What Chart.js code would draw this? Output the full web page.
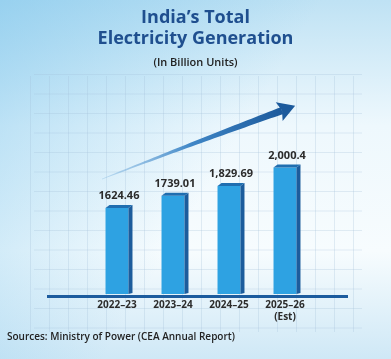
<!DOCTYPE html>
<html>
<head>
<meta charset="utf-8">
<script src="https://cdn.jsdelivr.net/npm/chart.js@4.4.1/dist/chart.umd.min.js"></script>
<style>
  html, body { margin: 0; padding: 0; background: #ffffff; }
  #wrap { width: 391px; height: 359px; position: relative; }
</style>
</head>
<body>
<div id="wrap"><canvas id="genChart" width="391" height="359"></canvas></div>
<script>
const years = ['2022–23', '2023–24', '2024–25', ['2025–26', '(Est)']];
const generation = [1624.46, 1739.01, 1829.69, 2000.4];
const valueLabels = ['1624.46', '1739.01', '1,829.69', '2,000.4'];
const sourceNote = 'Sources: Ministry of Power (CEA Annual Report)';

// background wash + faint graph-paper grid
const backdrop = {
  id: 'backdrop',
  beforeDraw(chart) {
    const { ctx, width, height } = chart;
    ctx.save();
    let g = ctx.createLinearGradient(0, 0, 0, height);
    g.addColorStop(0, '#bfe2f4');
    g.addColorStop(0.35, '#eef8fd');
    g.addColorStop(0.7, '#f7fcfe');
    g.addColorStop(1, '#cfe8f6');
    ctx.fillStyle = g;
    ctx.fillRect(0, 0, width, height);
    g = ctx.createLinearGradient(0, 0, width * 0.6, height * 0.4);
    g.addColorStop(0, 'rgba(120,195,235,0.55)');
    g.addColorStop(1, 'rgba(120,195,235,0)');
    ctx.fillStyle = g;
    ctx.fillRect(0, 0, width, height);

    ctx.strokeStyle = 'rgba(160,190,215,0.28)';
    ctx.lineWidth = 1;
    for (let x = 49.5 - 19; x < 362; x += 19) {
      ctx.beginPath(); ctx.moveTo(x, 76); ctx.lineTo(x, 332); ctx.stroke();
    }
    for (let y = 93.5 - 19; y < 334; y += 19.5) {
      ctx.beginPath(); ctx.moveTo(34, y); ctx.lineTo(362, y); ctx.stroke();
    }
    ctx.restore();
  }
};

// side/top faces, value labels, baseline, growth arrow, source line
const extras = {
  id: 'extras',
  afterDatasetsDraw(chart) {
    const { ctx, chartArea } = chart;
    const bars = chart.getDatasetMeta(0).data;
    ctx.save();
    bars.forEach((b, i) => {
      const r = b.x + b.width / 2, l = b.x - b.width / 2;
      const bottom = Math.min(b.base, chartArea.bottom);
      const d = 4, u = 3;
      ctx.fillStyle = '#1c5c9c';
      ctx.beginPath();
      ctx.moveTo(r, b.y); ctx.lineTo(r + d, b.y - u);
      ctx.lineTo(r + d, bottom - 1); ctx.lineTo(r, bottom);
      ctx.closePath(); ctx.fill();
      ctx.fillStyle = '#1f6eb0';
      ctx.beginPath();
      ctx.moveTo(l, b.y); ctx.lineTo(l + d, b.y - u);
      ctx.lineTo(r + d, b.y - u); ctx.lineTo(r, b.y);
      ctx.closePath(); ctx.fill();

      ctx.fillStyle = '#2b2b2b';
      ctx.font = '700 11px "Open Sans"';
      ctx.textAlign = 'center';
      ctx.textBaseline = 'alphabetic';
      ctx.fillText(valueLabels[i], b.x + 2, b.y - 9);
    });

    // baseline
    ctx.fillStyle = '#1d5c9e';
    ctx.fillRect(47, chartArea.bottom + 1, 301, 3);

    // growth arrow
    const b0 = bars[0], b3 = bars[bars.length - 1];
    const S = { x: b0.x - 15, y: b0.y - 29 };
    const E = { x: b3.x - 3, y: b3.y - 57 };
    const C = { x: (S.x + E.x) / 2 + 7, y: S.y - 38 };
    const pt = t => ({
      x: (1 - t) * (1 - t) * S.x + 2 * (1 - t) * t * C.x + t * t * E.x,
      y: (1 - t) * (1 - t) * S.y + 2 * (1 - t) * t * C.y + t * t * E.y
    });
    const tan = t => {
      const dx = 2 * (1 - t) * (C.x - S.x) + 2 * t * (E.x - C.x);
      const dy = 2 * (1 - t) * (C.y - S.y) + 2 * t * (E.y - C.y);
      const n = Math.hypot(dx, dy);
      return { x: dx / n, y: dy / n };
    };
    const upper = [], lower = [];
    for (let k = 0; k <= 40; k++) {
      const t = k / 40, p = pt(t), v = tan(t), w = 0.4 + 3.2 * t;
      upper.push({ x: p.x + v.y * w, y: p.y - v.x * w });
      lower.push({ x: p.x - v.y * w, y: p.y + v.x * w });
    }
    const grad = ctx.createLinearGradient(S.x, S.y, E.x, E.y);
    grad.addColorStop(0, 'rgba(110,170,220,0.3)');
    grad.addColorStop(0.5, '#3f86c6');
    grad.addColorStop(1, '#1c5a9c');
    ctx.fillStyle = grad;
    ctx.beginPath();
    upper.forEach((p, k) => k ? ctx.lineTo(p.x, p.y) : ctx.moveTo(p.x, p.y));
    lower.reverse().forEach(p => ctx.lineTo(p.x, p.y));
    ctx.closePath(); ctx.fill();
    const v = tan(1);
    const back = { x: E.x - v.x * 3, y: E.y - v.y * 3 };
    ctx.fillStyle = '#1c5a9c';
    ctx.beginPath();
    ctx.moveTo(E.x + v.x * 14, E.y + v.y * 14);
    ctx.lineTo(back.x - v.y * 10, back.y + v.x * 10);
    ctx.lineTo(E.x, E.y);
    ctx.lineTo(back.x + v.y * 10, back.y - v.x * 10);
    ctx.closePath(); ctx.fill();

    // source
    ctx.fillStyle = '#222';
    ctx.font = '600 10px "Open Sans"';
    ctx.textAlign = 'left';
    ctx.textBaseline = 'middle';
    ctx.fillText(sourceNote, 7, 337);
    ctx.restore();
  }
};

const ctx = document.getElementById('genChart').getContext('2d');
new Chart(ctx, {
  type: 'bar',
  data: {
    labels: years,
    datasets: [{
      label: 'Electricity Generation (BU)',
      data: generation,
      backgroundColor: '#2ea2e2',
      borderWidth: 0,
      barPercentage: 0.41,
      categoryPercentage: 1
    }]
  },
  options: {
    responsive: false,
    animation: false,
    // symmetric padding keeps the title centred; the hidden y axis takes the extra left offset
    layout: { padding: { left: 78, right: 78, top: 0, bottom: 31 } },
    plugins: {
      legend: { display: false },
      tooltip: { enabled: false },
      title: {
        display: true,
        text: ['India’s Total', 'Electricity Generation'],
        color: '#1f4f8f',
        font: { family: 'Open Sans', size: 18, weight: '700', lineHeight: 1.18 },
        padding: { top: 7, bottom: 2 }
      },
      subtitle: {
        display: true,
        text: '(In Billion Units)',
        color: '#222',
        font: { family: 'Open Sans', size: 11, weight: '600' },
        padding: { top: 5, bottom: 27 }
      }
    },
    scales: {
      x: {
        grid: { display: false, drawTicks: false },
        border: { display: false },
        ticks: {
          color: '#2b2b2b',
          font: { family: 'Open Sans', size: 10, weight: '700' },
          padding: 5,
          maxRotation: 0
        }
      },
      y: {
        min: 825,
        max: 2660,
        grid: { display: false, drawTicks: false },
        border: { display: false },
        ticks: { display: false },
        afterFit(scale) { scale.width = 11; }
      }
    }
  },
  plugins: [backdrop, extras]
});
</script>
</body>
</html>
